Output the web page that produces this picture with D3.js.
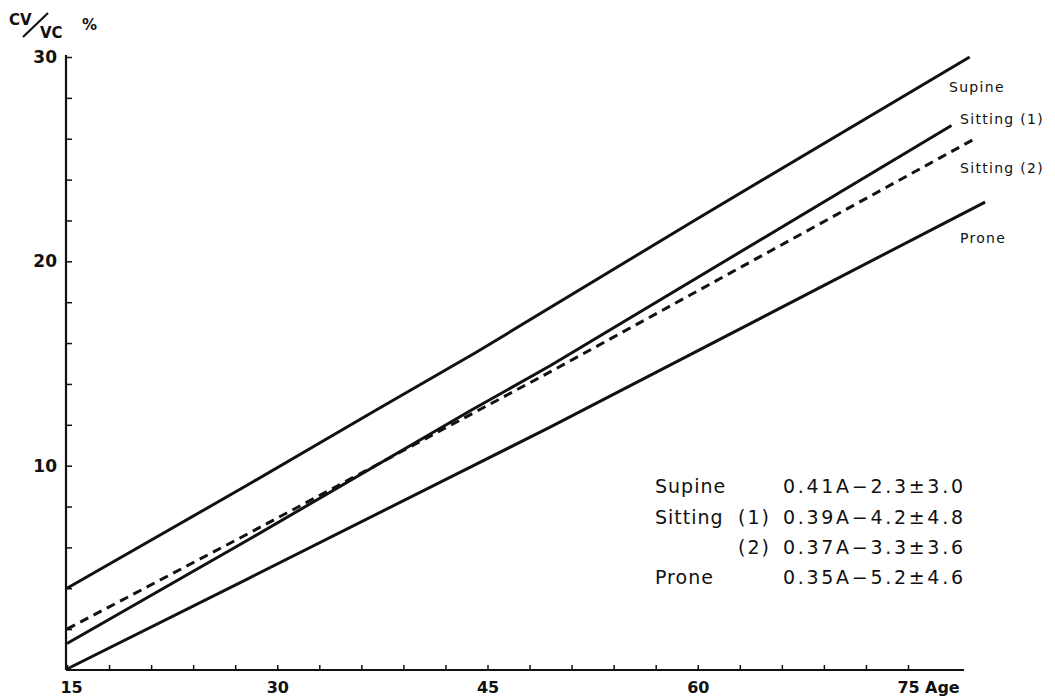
<!DOCTYPE html>
<html>
<head>
<meta charset="utf-8">
<script src="https://cdn.jsdelivr.net/npm/d3@7"></script>
<style>
  body { margin: 0; background: #fff; }
  svg text { font-family: "DejaVu Sans", sans-serif; fill: #111; }
</style>
</head>
<body>
<div id="chart"></div>
<script>
// values: [age, CV/VC %]
const supine = [[15, 4.0], [28, 9.1], [37, 12.7], [44.2, 15.55], [60, 22.1], [79.4, 30.0]];
const sitting1 = [[15, 1.3], [28, 6.4], [43.8, 12.7], [49.5, 14.9], [78.1, 26.65]];
const sitting2 = [[15, 2.0], [28, 6.7], [49.5, 14.6], [79.9, 26.05]];
const prone = [[15, 0.05], [28, 4.5], [49.5, 11.9], [80.5, 22.9]];

const seriesNames = ["Supine", "Sitting (1)", "Sitting (2)", "Prone"];
const labelValues = [28.3, 26.7, 24.3, 20.9];

const xTickLabels = [15, 30, 45, 60, 75];
const yTickLabels = [10, 20, 30];

const eqNames = ["Supine", "Sitting", "", "Prone"];
const eqSub = ["", "(1)", "(2)", ""];
const eqFormula = ["0.41A\u22122.3\u00B13.0", "0.39A\u22124.2\u00B14.8", "0.37A\u22123.3\u00B13.6", "0.35A\u22125.2\u00B14.6"];

const width = 1055, height = 697;

const svg = d3.select("#chart").append("svg")
    .attr("width", width)
    .attr("height", height);

const x = d3.scaleLinear().domain([15, 75]).range([67, 908]);
const y = d3.scaleLinear().domain([0, 30]).range([670, 57]);

// axes
const xAxis = d3.axisBottom(x)
    .tickValues(d3.range(15, 76, 3))
    .tickSize(-5)
    .tickPadding(12)
    .tickFormat(d => xTickLabels.includes(d) ? d : "");

const gx = svg.append("g")
    .attr("transform", `translate(0,${y(0)})`)
    .call(xAxis);
gx.select(".domain").remove();
gx.selectAll(".tick line").attr("stroke", "#111").attr("stroke-width", 1.5);
gx.selectAll(".tick text")
    .attr("font-size", 16)
    .attr("font-weight", "bold")
    .attr("fill", "#111")
    .attr("dx", d => d === 15 ? 4 : 0);

svg.append("line")
    .attr("x1", x(15) - 1).attr("x2", x(79))
    .attr("y1", y(0)).attr("y2", y(0))
    .attr("stroke", "#111").attr("stroke-width", 2.2);

svg.append("text")
    .attr("x", x(75) + 17)
    .attr("y", y(0) + 23)
    .attr("font-size", 16)
    .attr("font-weight", "bold")
    .text("Age");

const yAxis = d3.axisLeft(y)
    .tickValues(d3.range(2, 31, 2))
    .tickSize(-6)
    .tickPadding(9)
    .tickFormat(d => yTickLabels.includes(d) ? d : "");

const gy = svg.append("g")
    .attr("transform", `translate(${x(15) - 1},0)`)
    .call(yAxis);
gy.select(".domain").remove();
gy.selectAll(".tick line").attr("stroke", "#111").attr("stroke-width", 1.5);
gy.selectAll(".tick text")
    .attr("font-size", 17)
    .attr("font-weight", "bold")
    .attr("fill", "#111");

svg.append("line")
    .attr("x1", x(15) - 1).attr("x2", x(15) - 1)
    .attr("y1", y(0)).attr("y2", y(30) - 2)
    .attr("stroke", "#111").attr("stroke-width", 2.2);

// y axis title  CV/VC %
const title = svg.append("g").attr("font-weight", "bold");
title.append("text").attr("x", 9).attr("y", 25).attr("font-size", 15).text("CV");
title.append("line")
    .attr("x1", 23).attr("y1", 37).attr("x2", 48).attr("y2", 13)
    .attr("stroke", "#111").attr("stroke-width", 2.2);
title.append("text").attr("x", 40).attr("y", 38).attr("font-size", 15).text("VC");
title.append("text").attr("x", 82).attr("y", 30).attr("font-size", 15).text("%");

// lines
const line = d3.line()
    .x(d => x(d[0]))
    .y(d => y(d[1]));

const series = [supine, sitting1, sitting2, prone];
const dashes = [null, null, "9,6", null];

svg.selectAll(".series")
    .data(series)
    .join("path")
    .attr("class", "series")
    .attr("d", line)
    .attr("fill", "none")
    .attr("stroke", "#111")
    .attr("stroke-width", 3)
    .attr("stroke-linejoin", "round")
    .attr("stroke-dasharray", (d, i) => dashes[i]);

// series labels at right
svg.selectAll(".series-label")
    .data(seriesNames)
    .join("text")
    .attr("class", "series-label")
    .attr("x", (d, i) => i === 0 ? 949 : 960)
    .attr("y", (d, i) => y(labelValues[i]))
    .attr("font-size", 14)
    .attr("letter-spacing", 1.3)
    .text(d => d);

// equations block
const eq = svg.append("g").attr("font-size", 19);
const rowY = [493, 524, 554, 584];

eq.selectAll(".eq-name")
    .data(eqNames)
    .join("text")
    .attr("class", "eq-name")
    .attr("x", 655)
    .attr("y", (d, i) => rowY[i])
    .attr("letter-spacing", 1)
    .text(d => d);

eq.selectAll(".eq-sub")
    .data(eqSub)
    .join("text")
    .attr("class", "eq-sub")
    .attr("x", 738)
    .attr("y", (d, i) => rowY[i])
    .attr("letter-spacing", 2)
    .text(d => d);

eq.selectAll(".eq-formula")
    .data(eqFormula)
    .join("text")
    .attr("class", "eq-formula")
    .attr("x", 783)
    .attr("y", (d, i) => rowY[i])
    .attr("textLength", 180)
    .attr("lengthAdjust", "spacing")
    .text(d => d);
</script>
</body>
</html>
